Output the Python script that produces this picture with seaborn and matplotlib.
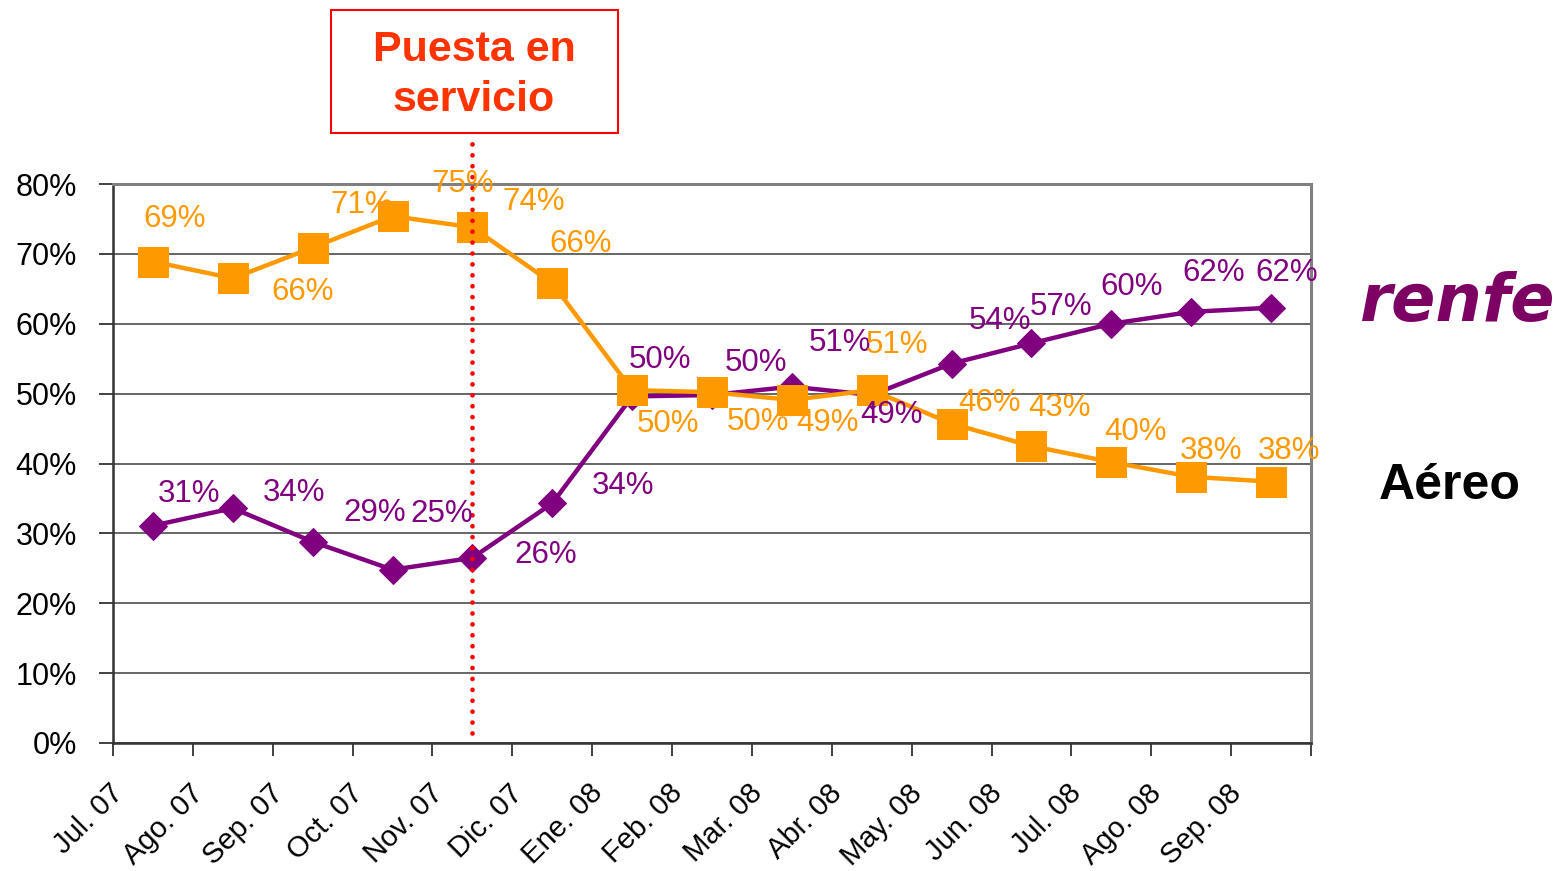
import numpy as np
import pandas as pd
import seaborn as sns
import matplotlib.pyplot as plt
import matplotlib.transforms as mtransforms
from matplotlib.patches import Rectangle

# ---------------- data ----------------
months = ["Jul. 07", "Ago. 07", "Sep. 07", "Oct. 07", "Nov. 07", "Dic. 07",
          "Ene. 08", "Feb. 08", "Mar. 08", "Abr. 08", "May. 08", "Jun. 08",
          "Jul. 08", "Ago. 08", "Sep. 08"]
renfe = [31.1, 33.6, 28.8, 24.8, 26.5, 34.3, 49.6, 49.8, 51.0, 49.8, 54.3,
         57.2, 60.0, 61.7, 62.3]
aereo = [68.9, 66.5, 70.9, 75.4, 73.8, 65.8, 50.5, 50.2, 49.1, 50.5, 45.7,
         42.5, 40.2, 38.1, 37.4]
renfe_labels = ["31%", "34%", "29%", "25%", "26%", "34%", "50%", "50%", "51%",
                "49%", "54%", "57%", "60%", "62%", "62%"]
aereo_labels = ["69%", "66%", "71%", "75%", "74%", "66%", "50%", "50%", "49%",
                "51%", "46%", "43%", "40%", "38%", "38%"]
y_ticks = [0, 10, 20, 30, 40, 50, 60, 70, 80]
event_month = "Nov. 07"

# ---------------- layout (label offsets in pixels) ----------------
renfe_off = [(36, 32), (61, 15), (62, 29), (49, 56), (73, 3), (71, 17), (28, 36),
             (44, 32), (48, 44), (20, -20), (48, 43), (30, 36), (20, 37),
             (22, 39), (16, 35)]
aereo_off = [(22, 43), (70, -14), (49, 43), (70, 32), (61, 25), (28, 39),
             (36, -34), (46, -30), (36, -23), (25, 45), (38, 21), (28, 38),
             (24, 30), (20, 26), (18, 31)]

PURPLE = "#800080"
ORANGE = "#FF9900"

sns.set_theme(style="white")
plt.rcParams["font.family"] = ["Liberation Sans", "DejaVu Sans"]
plt.rcParams["text.color"] = "black"
plt.rcParams["xtick.color"] = "black"
plt.rcParams["ytick.color"] = "black"

W, H = 1565, 871
fig = plt.figure(figsize=(W / 100, H / 100), dpi=100)
ax = fig.add_axes([113 / W, 1 - 743 / H, (1311 - 113) / W, (743 - 184) / H])

x = np.arange(len(months))
df = pd.DataFrame({"x": x, "renfe": renfe, "aereo": aereo})

sns.lineplot(data=df, x="x", y="renfe", ax=ax, color=PURPLE, lw=3.2,
             marker="D", markersize=14.5, markeredgecolor=PURPLE,
             markerfacecolor=PURPLE, errorbar=None, zorder=3)
sns.lineplot(data=df, x="x", y="aereo", ax=ax, color=ORANGE, lw=3.2,
             marker="s", markersize=21, markeredgecolor=ORANGE,
             markerfacecolor=ORANGE, errorbar=None, zorder=4)

# data labels
for xi, v, t, (dx, dy) in zip(x, renfe, renfe_labels, renfe_off):
    ax.annotate(t, (xi, v), xytext=(dx, dy), textcoords="offset pixels",
                ha="center", va="center", fontsize=22.5, color=PURPLE, zorder=6)
for xi, v, t, (dx, dy) in zip(x, aereo, aereo_labels, aereo_off):
    ax.annotate(t, (xi, v), xytext=(dx, dy), textcoords="offset pixels",
                ha="center", va="center", fontsize=22.5, color=ORANGE, zorder=6)

# axes styling
ax.set_xlim(-0.5, len(months) - 0.5)
ax.set_ylim(0, 80)
ax.set_yticks(y_ticks)
ax.set_yticklabels([f"{v}%" for v in y_ticks])
ax.set_xticks(np.arange(len(months) + 1) - 0.5)
ax.set_xticklabels(months + [""])
ax.set_xlabel("")
ax.set_ylabel("")
ax.yaxis.grid(True, color="#4d4d4d", lw=1.2)
ax.xaxis.grid(False)
ax.set_axisbelow(True)

ax.tick_params(axis="y", left=True, length=10, width=1.3, pad=16,
               labelsize=22, direction="out", color="#333333",
               labelcolor="black")
ax.tick_params(axis="x", bottom=True, length=9, width=1.3, pad=24,
               labelsize=21, direction="out", color="#333333",
               labelcolor="black")
shift = mtransforms.ScaledTranslation(6 / 100, 0, fig.dpi_scale_trans)
for lbl in ax.get_xticklabels():
    lbl.set_rotation(45)
    lbl.set_ha("right")
    lbl.set_va("center")
    lbl.set_rotation_mode("anchor")
    lbl.set_transform(lbl.get_transform() + shift)

for side in ["left", "bottom"]:
    ax.spines[side].set_color("#333333")
    ax.spines[side].set_linewidth(1.8)
for side in ["top", "right"]:
    ax.spines[side].set_color("#808080")
    ax.spines[side].set_linewidth(2.2)

# event dotted line
ev = months.index(event_month)
ax.plot([ev, ev], [1.5, 85.9], color="#FF0000", lw=3.4,
        linestyle=(0, (0.01, 2.3)), dash_capstyle="round", clip_on=False,
        zorder=5)

# event box
fig.add_artist(Rectangle((331 / W, 1 - 133 / H), 287 / W, 123 / H,
                         transform=fig.transFigure, fill=False,
                         ec="#FF0000", lw=1.5))
fig.text(474 / W, 1 - 75 / H, "Puesta en\nservicio", ha="center",
         va="center", fontsize=31, weight="bold", color="#FF3300",
         linespacing=1.3)

# right side labels
fig.text(1458 / W, 1 - 303 / H, "renfe", style="italic", weight="bold",
         family=["DejaVu Sans"], color="#7D0063", fontsize=47,
         ha="center", va="center")
fig.text(1450 / W, 1 - 486 / H, "Aéreo", weight="bold", fontsize=36,
         ha="center", va="center", color="black")

fig.savefig("out.png", dpi=100)
